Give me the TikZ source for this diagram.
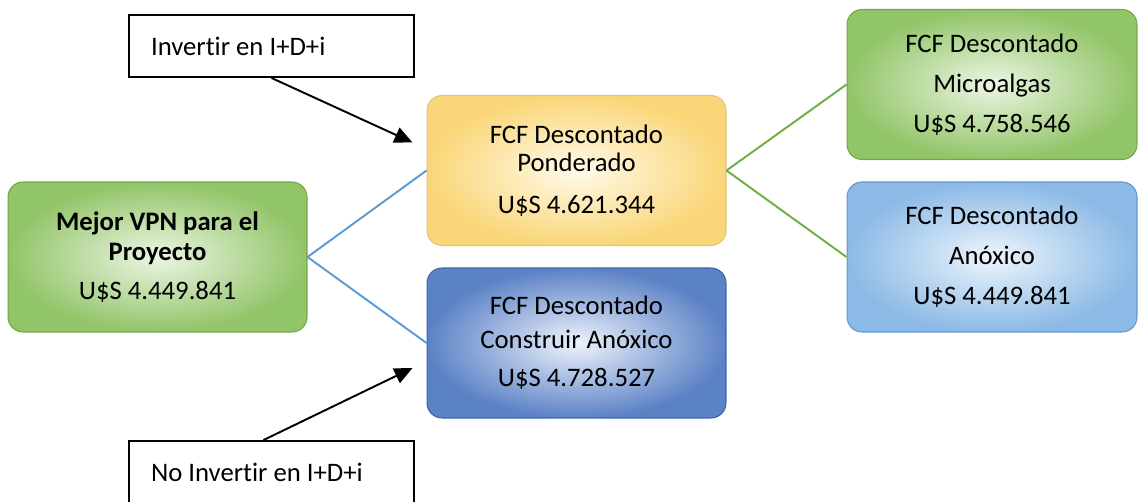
\documentclass[tikz,border=0pt]{standalone}
\usepackage{fontspec}
\setmainfont{Carlito}[Ligatures=NoCommon]
\usepackage{tikz}
\usetikzlibrary{positioning}
\usetikzlibrary{calc}
\usetikzlibrary{arrows.meta}

\definecolor{leafGreenOut}{RGB}{146,196,104}
\definecolor{leafGreenIn}{RGB}{236,246,228}
\definecolor{leafGreenLine}{RGB}{112,168,72}
\definecolor{sunYellowOut}{RGB}{250,214,120}
\definecolor{sunYellowIn}{RGB}{255,250,234}
\definecolor{sunYellowLine}{RGB}{226,196,120}
\definecolor{deepBlueOut}{RGB}{92,130,198}
\definecolor{deepBlueIn}{RGB}{238,243,252}
\definecolor{deepBlueLine}{RGB}{64,100,170}
\definecolor{skyBlueOut}{RGB}{140,186,230}
\definecolor{skyBlueIn}{RGB}{238,245,252}
\definecolor{skyBlueLine}{RGB}{100,150,206}
\definecolor{branchBlue}{RGB}{91,155,213}
\definecolor{branchGreen}{RGB}{112,173,71}

\tikzset{
	valuebox/.style={
		draw,
		rounded corners=0.3cm,
		minimum width=5.98cm,
		minimum height=3cm,
		align=center,
		line width=0.6pt,
		font=\fontsize{15.2}{17}\selectfont
	},
	greenbox/.style={valuebox, draw=leafGreenLine, inner color=leafGreenIn, outer color=leafGreenOut},
	yellowbox/.style={valuebox, draw=sunYellowLine, inner color=sunYellowIn, outer color=sunYellowOut},
	darkbluebox/.style={valuebox, draw=deepBlueLine, inner color=deepBlueIn, outer color=deepBlueOut},
	lightbluebox/.style={valuebox, draw=skyBlueLine, inner color=skyBlueIn, outer color=skyBlueOut},
	choicebox/.style={
		draw,
		fill=white,
		line width=1.1pt,
		text width=4.82cm,
		inner xsep=0.44cm,
		minimum height=1.24cm,
		align=flush left,
		font=\fontsize{15.2}{17}\selectfont
	},
	choicearrow/.style={-{Triangle[length=0.36cm, width=0.32cm]}, line width=1.1pt},
	branchline/.style={line width=1.1pt}
}

\begin{document}
\begin{tikzpicture}[x=0.02cm, y=-0.02cm]
\useasboundingbox (0,0) rectangle (1138,501);

\node[greenbox] (bestVPN) at (157.5,257)
	{\textbf{Mejor VPN para el}\\\textbf{Proyecto}\\[5pt]U\$S 4.449.841};

\node[yellowbox] (weighted) at (576.5,170.5)
	{FCF Descontado\\[-1pt]Ponderado\\[7pt]U\$S 4.621.344};

\node[darkbluebox] (buildAnox) at (576.5,343)
	{FCF Descontado\\[2pt]Construir Anóxico\\[5pt]U\$S 4.728.527};

\node[greenbox, minimum width=5.8cm] (microalgae) at (992,84.5)
	{FCF Descontado\\[5.8pt]Microalgas\\[5.8pt]U\$S 4.758.546};

\node[lightbluebox, minimum width=5.8cm] (anoxic) at (992,257)
	{FCF Descontado\\[5.8pt]Anóxico\\[5.8pt]U\$S 4.449.841};

\node[choicebox] (invest) at (271.5,46) {Invertir en I+D+i};

\node[choicebox] (noInvest) at (271.5,472) {No Invertir en I+D+i};

% ---

\draw[branchline, branchBlue] (bestVPN.east) -- (weighted.west);
\draw[branchline, branchBlue] (bestVPN.east) -- (buildAnox.west);

\draw[branchline, branchGreen] (weighted.east) -- (microalgae.west);
\draw[branchline, branchGreen] (weighted.east) -- (anoxic.west);

% ---

\draw[choicearrow] (invest.south) -- ($(weighted.west) + (-14,-28)$);
\draw[choicearrow] ($(noInvest.north) + (-8,0)$) -- ($(buildAnox.west) + (-14,25)$);

\end{tikzpicture}
\end{document}
